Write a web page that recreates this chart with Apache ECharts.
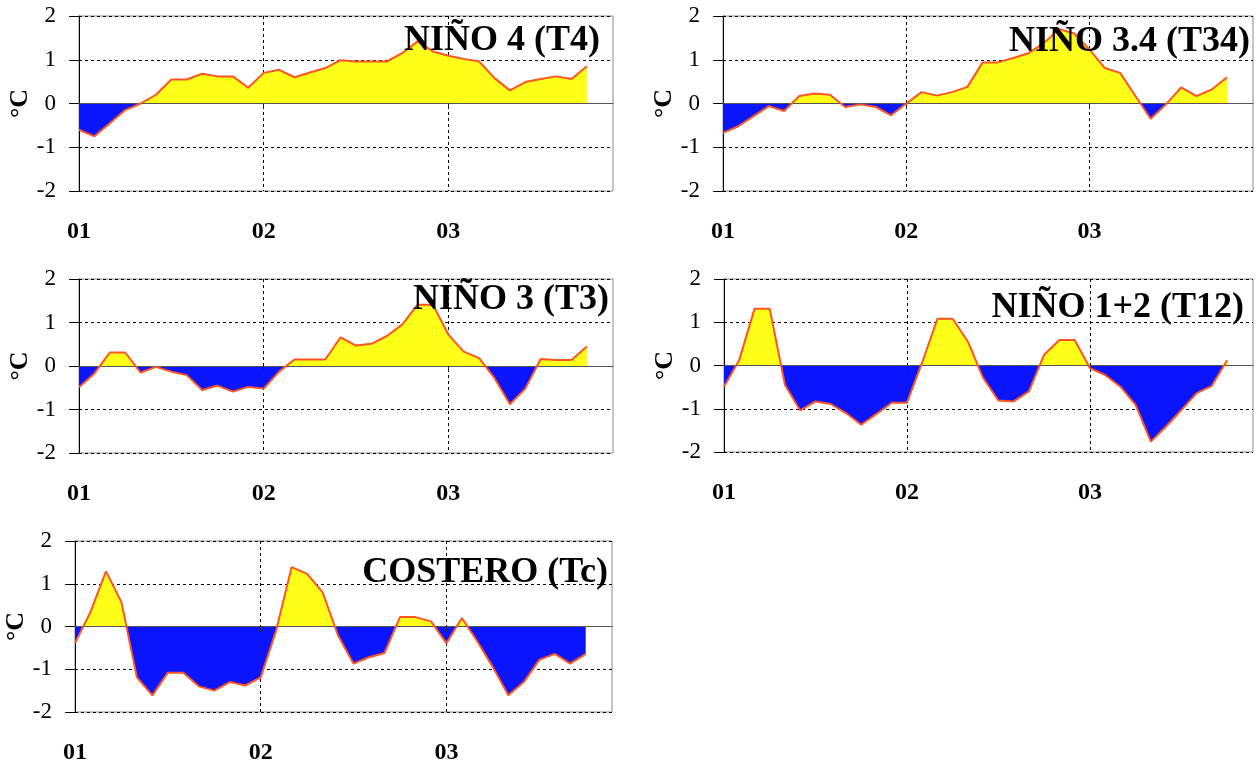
<!DOCTYPE html>
<html>
<head>
<meta charset="utf-8">
<script src="https://cdn.jsdelivr.net/npm/echarts@6/dist/echarts.min.js"></script>
<style>
  html, body { margin: 0; padding: 0; background: #fff; }
  #pic { width: 1258px; height: 767px; }
</style>
</head>
<body>
<div id="pic"></div>
<script>
// monthly anomalies (ºC), Jan 2001 .. Oct 2003
var yearLabels = ['01', '02', '03'];
var yTicks = [-2, -1, 0, 1, 2];
var titles = ['NIÑO 4 (T4)', 'NIÑO 3.4 (T34)', 'NIÑO 3 (T3)', 'NIÑO 1+2 (T12)', 'COSTERO (Tc)'];
var nino4 = [-0.6, -0.75, -0.45, -0.15, 0.0, 0.2, 0.55, 0.55, 0.68, 0.62, 0.62, 0.36,
             0.7, 0.77, 0.6, 0.71, 0.81, 0.99, 0.96, 0.96, 0.96, 1.15, 1.42, 1.19,
             1.09, 1.02, 0.96, 0.58, 0.3, 0.49, 0.56, 0.62, 0.56, 0.85];
var nino34 = [-0.67, -0.52, -0.29, -0.06, -0.17, 0.17, 0.23, 0.2, -0.08, -0.02, -0.08, -0.27,
              0.0, 0.26, 0.18, 0.26, 0.38, 0.94, 0.94, 1.04, 1.15, 1.38, 1.7, 1.6,
              1.23, 0.81, 0.7, 0.17, -0.35, -0.02, 0.37, 0.17, 0.32, 0.6];
var nino3 = [-0.49, -0.17, 0.31, 0.31, -0.15, -0.02, -0.13, -0.21, -0.55, -0.45, -0.59, -0.48,
             -0.52, -0.13, 0.15, 0.15, 0.15, 0.66, 0.47, 0.51, 0.69, 0.95, 1.41, 1.41,
             0.72, 0.33, 0.18, -0.28, -0.88, -0.52, 0.16, 0.14, 0.14, 0.45];
var nino12 = [-0.49, 0.13, 1.31, 1.31, -0.45, -1.04, -0.83, -0.89, -1.1, -1.37, -1.12, -0.86,
              -0.86, 0.07, 1.08, 1.08, 0.55, -0.29, -0.81, -0.83, -0.6, 0.25, 0.59, 0.59,
              -0.06, -0.22, -0.49, -0.91, -1.76, -1.41, -1.03, -0.64, -0.47, 0.12];
var costero = [-0.39, 0.34, 1.29, 0.57, -1.19, -1.61, -1.08, -1.08, -1.4, -1.5, -1.3, -1.38,
               -1.19, -0.09, 1.39, 1.23, 0.8, -0.21, -0.87, -0.72, -0.62, 0.22, 0.22, 0.12,
               -0.39, 0.2, -0.35, -0.95, -1.61, -1.3, -0.78, -0.64, -0.87, -0.64];

var panels = [nino4, nino34, nino3, nino12, costero];
var boxes = [
  {left: 79,  top: 16,  width: 534, height: 175, tx: 600,  ty: 41},
  {left: 723, top: 16,  width: 530, height: 175, tx: 1250, ty: 42},
  {left: 79,  top: 279, width: 534, height: 174, tx: 609,  ty: 300},
  {left: 724, top: 279, width: 529, height: 173, tx: 1244, ty: 308},
  {left: 75,  top: 541, width: 537, height: 171, tx: 608,  ty: 573}
];
var xMax = 34.7;
var serif = '"Liberation Serif", "Times New Roman", serif';
var yellow = '#ffff1a';
var blue = '#0a14ff';
var orange = '#ff5522';
var yearTicks = yearLabels.map(function (s, i) { return i * 12; });

var grid = [], xAxis = [], yAxis = [], series = [], visualMap = [], graphic = [];

panels.forEach(function (vals, p) {
  var b = boxes[p];
  var pts = vals.map(function (v, i) { return [i, v]; });

  grid.push({
    left: b.left, top: b.top, width: b.width, height: b.height,
    show: true, borderColor: '#8c8c8c', borderWidth: 1
  });

  // zero line with the little year ticks
  xAxis.push({
    type: 'value', gridIndex: p, min: 0, max: xMax, interval: 12,
    position: 'top', z: 3,
    axisLine: {onZero: true, lineStyle: {color: '#555', width: 1}},
    axisTick: {show: true, inside: true, length: 5, customValues: [12, 24], lineStyle: {color: '#222'}},
    axisLabel: {show: false},
    splitLine: {show: false}
  });
  // year labels along the bottom + dotted year lines
  xAxis.push({
    type: 'value', gridIndex: p, min: 0, max: xMax, interval: 12,
    position: 'bottom',
    axisLine: {show: false, onZero: false},
    axisTick: {show: false, customValues: yearTicks},
    axisLabel: {
      customValues: yearTicks, margin: 29,
      fontFamily: serif, fontWeight: 'bold', fontSize: 24, color: '#000',
      formatter: function (v) { return yearLabels[Math.round(v / 12)] || ''; }
    },
    splitLine: {show: true, lineStyle: {type: [3, 3], color: '#000', width: 1}}
  });

  yAxis.push({
    type: 'value', gridIndex: p, min: yTicks[0], max: yTicks[yTicks.length - 1], interval: 1,
    name: '°C', nameLocation: 'middle', nameRotate: 90, nameGap: 45,
    nameTextStyle: {fontFamily: serif, fontWeight: 'bold', fontSize: 26, color: '#000'},
    axisLine: {show: true, onZero: false, lineStyle: {color: '#000', width: 1}},
    axisTick: {show: true, inside: false, length: 10, lineStyle: {color: '#000'}},
    axisLabel: {margin: 23, fontFamily: serif, fontSize: 23, color: '#000'},
    splitLine: {show: true, lineStyle: {type: [3, 3], color: '#000', width: 1}}
  });

  // filled area: yellow above 0, blue below
  visualMap.push({
    type: 'piecewise', show: false, seriesIndex: series.length, dimension: 1,
    pieces: [{min: -10, max: 0, color: blue}, {min: 0, max: 10, color: yellow}],
    outOfRange: {color: yellow}
  });
  series.push({
    type: 'line', xAxisIndex: p * 2, yAxisIndex: p, data: pts,
    symbol: 'none', silent: true, z: 2,
    lineStyle: {width: 0, opacity: 0},
    areaStyle: {opacity: 1}
  });
  series.push({
    type: 'line', xAxisIndex: p * 2, yAxisIndex: p, data: pts,
    symbol: 'none', silent: true, z: 4,
    lineStyle: {color: orange, width: 2}
  });

  graphic.push({
    type: 'text', x: b.tx, y: b.ty, z: 10,
    style: {
      text: titles[p], fill: '#000', align: 'right', verticalAlign: 'middle',
      font: 'bold 36px ' + serif
    }
  });
});

var chart = echarts.init(document.getElementById('pic'));
chart.setOption({
  animation: false,
  backgroundColor: '#fff',
  grid: grid,
  xAxis: xAxis,
  yAxis: yAxis,
  visualMap: visualMap,
  series: series,
  graphic: graphic
});
</script>
</body>
</html>
